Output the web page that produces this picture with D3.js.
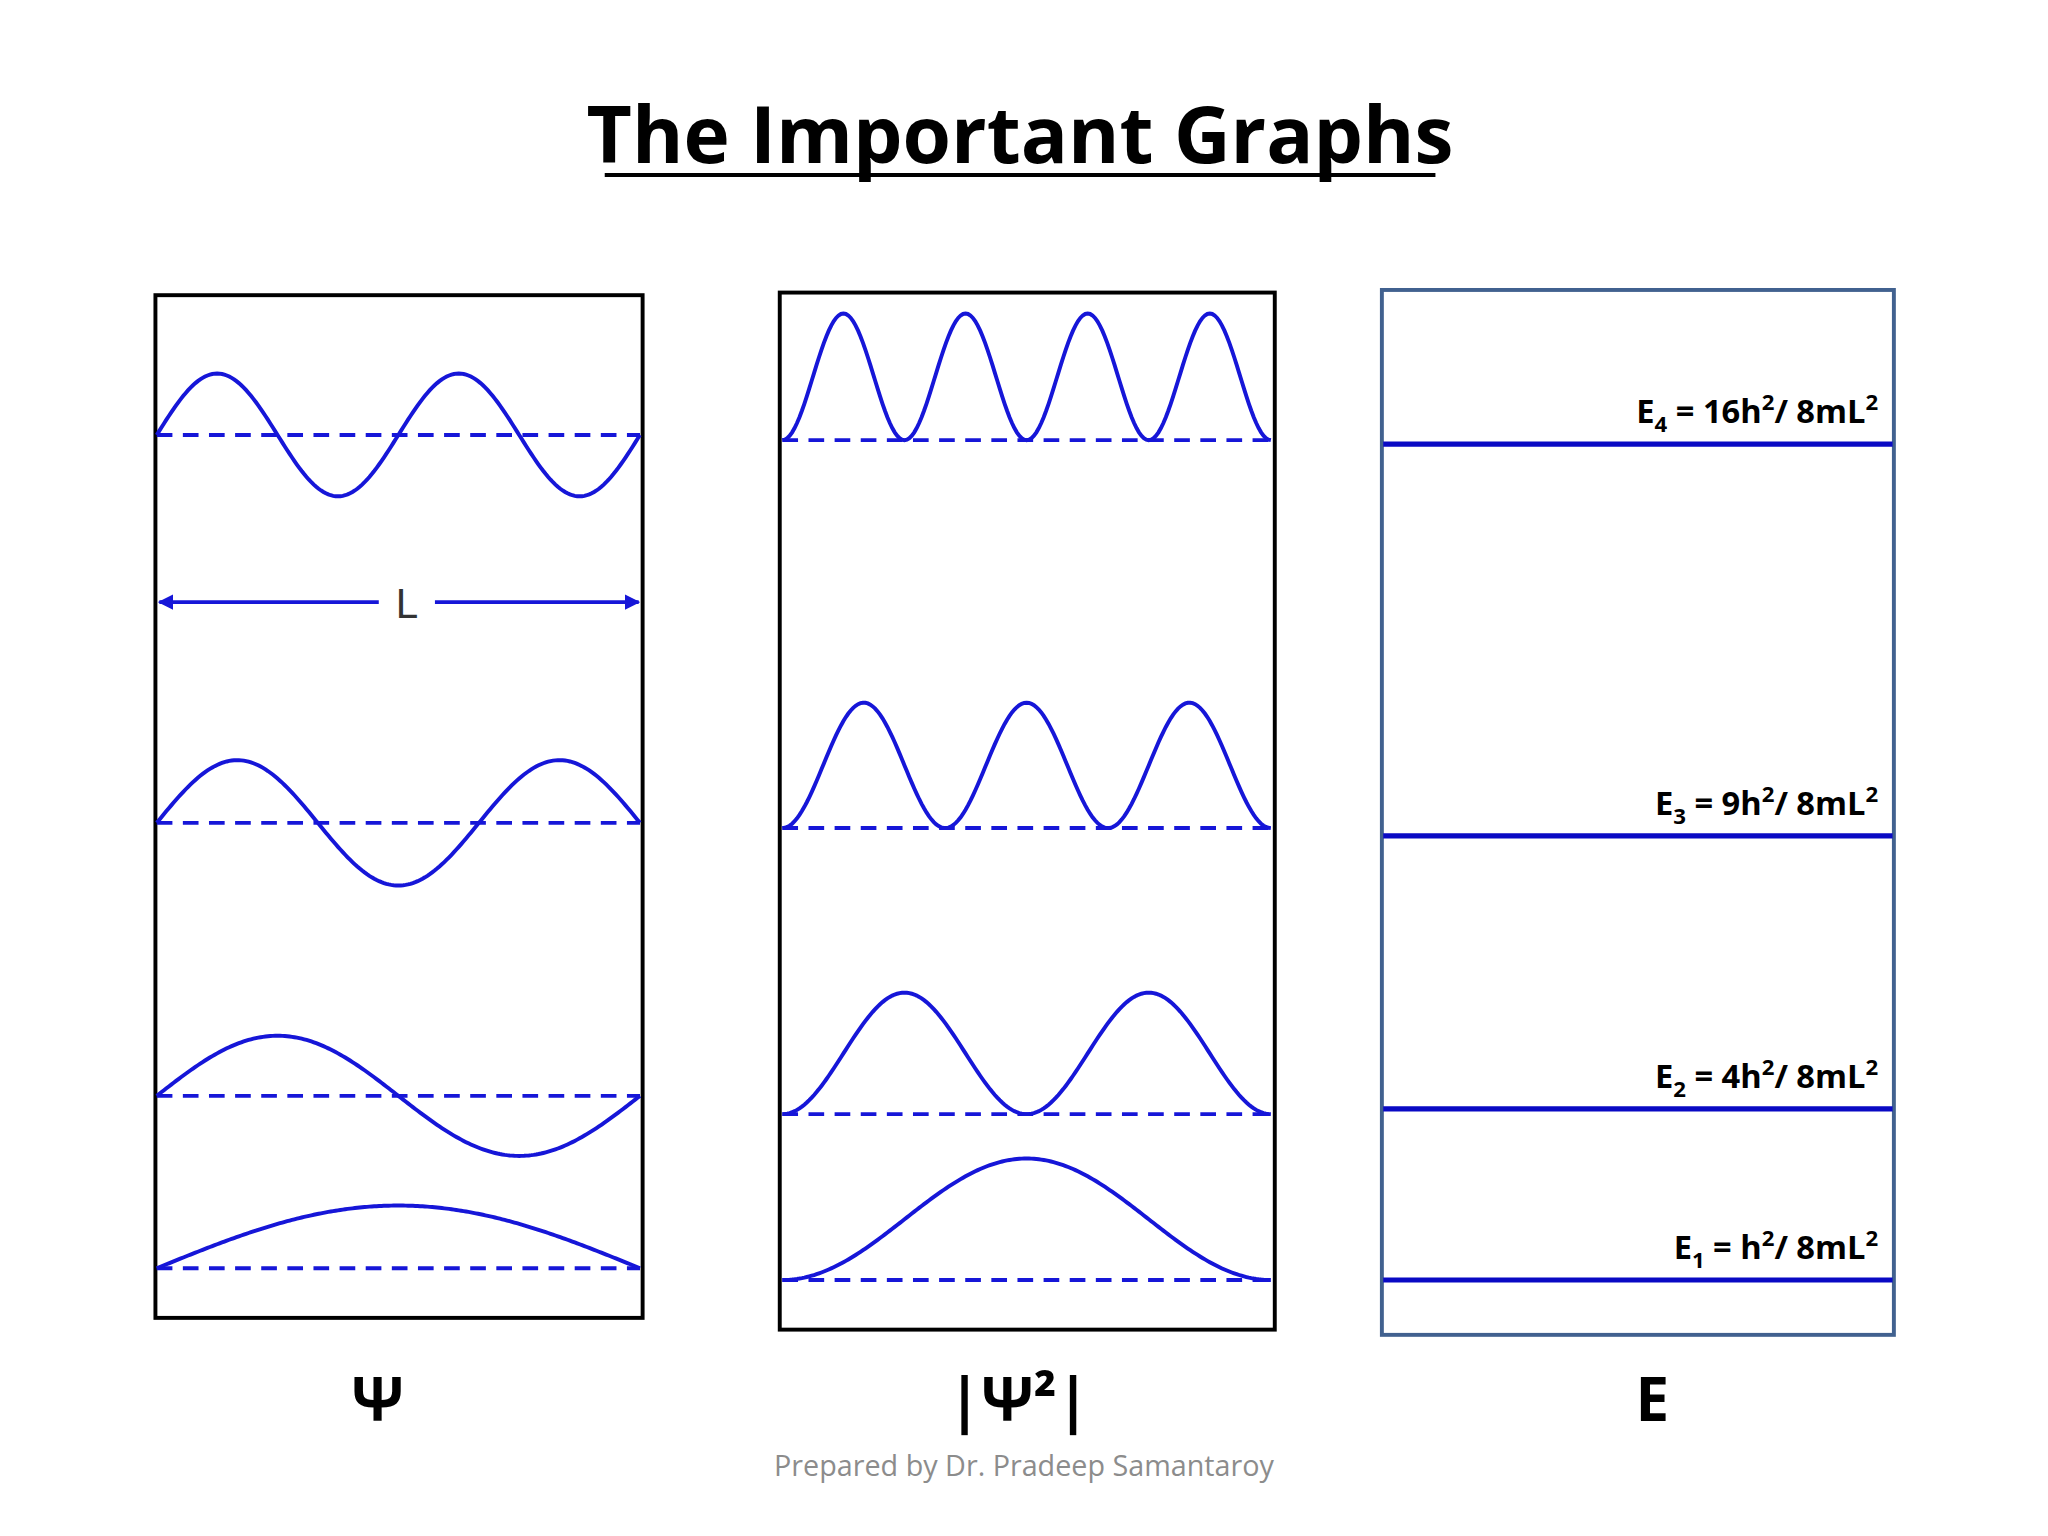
<!DOCTYPE html>
<html>
<head>
<meta charset="utf-8">
<script src="https://cdn.jsdelivr.net/npm/d3@7"></script>
<style>
  body { margin: 0; background: #fff; }
</style>
</head>
<body>
<div id="chart"></div>
<script>
// quantum numbers, top to bottom
var levels = [4, 3, 2, 1];
var energyLabels = [
  ["E", "4", " = 16h", "2", "/ 8mL", "2"],
  ["E", "3", " = 9h", "2", "/ 8mL", "2"],
  ["E", "2", " = 4h", "2", "/ 8mL", "2"],
  ["E", "1", " = h", "2", "/ 8mL", "2"]
];
var axisNames = ["Ψ", "|Ψ²|", "E"];

var blue = "#1616d8";

var svg = d3.select("#chart").append("svg")
    .attr("width", 2048)
    .attr("height", 1536)
    .attr("viewBox", "0 0 1568 1176");

svg.append("text")
    .attr("x", 781).attr("y", 125)
    .attr("text-anchor", "middle")
    .attr("font-family", "Open Sans, sans-serif")
    .attr("font-weight", "bold")
    .attr("font-size", 60)
    .text("The Important Graphs");
svg.append("line")
    .attr("x1", 463).attr("x2", 1099)
    .attr("y1", 134).attr("y2", 134)
    .attr("stroke", "#000").attr("stroke-width", 3);

// panel frames
var panels = [
  {x0: 119, x1: 492, y0: 226, y1: 1009, c: "#000"},
  {x0: 597, x1: 976, y0: 224, y1: 1018, c: "#000"},
  {x0: 1058, x1: 1450, y0: 222, y1: 1022, c: "#41618f"}
];
panels.forEach(function(p) {
  svg.append("rect")
      .attr("x", p.x0).attr("y", p.y0)
      .attr("width", p.x1 - p.x0).attr("height", p.y1 - p.y0)
      .attr("fill", "none").attr("stroke", p.c).attr("stroke-width", 3);
});

var samples = d3.range(0, 1.0001, 0.005);

function drawCurves(xr, bases, amps, fn) {
  var x = d3.scaleLinear().domain([0, 1]).range(xr);
  levels.forEach(function(n, i) {
    var y = d3.scaleLinear().domain([0, 1]).range([bases[i], bases[i] - amps[i]]);
    svg.append("line")
        .attr("x1", xr[0]).attr("x2", xr[1])
        .attr("y1", bases[i]).attr("y2", bases[i])
        .attr("stroke", blue).attr("stroke-width", 3)
        .attr("stroke-dasharray", "12,8");
    var line = d3.line()
        .x(function(d) { return x(d); })
        .y(function(d) { return y(fn(n, d)); });
    svg.append("path")
        .datum(samples)
        .attr("d", line)
        .attr("fill", "none").attr("stroke", blue).attr("stroke-width", 3);
  });
}

// Ψ
drawCurves([120, 490], [333, 630, 839, 971], [47, 48, 46, 48],
  function(n, t) { return Math.sin(n * Math.PI * t); });
// |Ψ²|
drawCurves([599, 973], [337, 634, 853, 980], [97, 96, 93, 93],
  function(n, t) { var s = Math.sin(n * Math.PI * t); return s * s; });

// L arrow
var defs = svg.append("defs");
defs.append("marker").attr("id", "ah")
    .attr("viewBox", "0 0 10 10").attr("refX", 9).attr("refY", 5)
    .attr("markerWidth", 4).attr("markerHeight", 4).attr("orient", "auto-start-reverse")
  .append("path").attr("d", "M0,0L10,5L0,10Z").attr("fill", blue);
svg.append("line").attr("x1", 122).attr("x2", 290).attr("y1", 461).attr("y2", 461)
    .attr("stroke", blue).attr("stroke-width", 3).attr("marker-start", "url(#ah)");
svg.append("line").attr("x1", 333).attr("x2", 489).attr("y1", 461).attr("y2", 461)
    .attr("stroke", blue).attr("stroke-width", 3).attr("marker-end", "url(#ah)");
svg.append("text").attr("x", 311).attr("y", 473)
    .attr("text-anchor", "middle").attr("font-family", "DejaVu Sans, sans-serif")
    .attr("font-size", 30).attr("fill", "#333").text("L");

// energy levels
var ey = d3.scaleLinear().domain([16, 1]).range([340, 980]);
var eVals = levels.map(function(n) { return n * n; });
var eyPos = [340, 640, 849, 980];
eVals.forEach(function(v, i) {
  svg.append("line")
      .attr("x1", 1059).attr("x2", 1449)
      .attr("y1", eyPos[i]).attr("y2", eyPos[i])
      .attr("stroke", "#0a0ac4").attr("stroke-width", 4);
  var t = svg.append("text")
      .attr("x", 1438).attr("y", eyPos[i] - 16)
      .attr("text-anchor", "end")
      .attr("font-family", "Open Sans, sans-serif")
      .attr("font-weight", "bold").attr("font-size", 25);
  energyLabels[i].forEach(function(s, k) {
    var sp = t.append("tspan").text(s);
    if (k === 1) sp.attr("font-size", 17).attr("dy", 7);
    if (k === 2) sp.attr("dy", -7);
    if (k === 3 || k === 5) sp.attr("font-size", 17).attr("dy", -10);
    if (k === 4) sp.attr("dy", 10);
  });
});

// bottom names
[289, 780, 1265].forEach(function(cx, i) {
  svg.append("text")
      .attr("x", cx).attr("y", 1088)
      .attr("text-anchor", "middle")
      .attr("font-family", "Open Sans, sans-serif")
      .attr("font-weight", "bold").attr("font-size", 46)
      .text(axisNames[i]);
});

svg.append("text")
    .attr("x", 784).attr("y", 1130)
    .attr("text-anchor", "middle")
    .attr("font-family", "Open Sans, sans-serif")
    .attr("font-size", 22).attr("fill", "#8c8c8c")
    .text("Prepared by Dr. Pradeep Samantaroy");
</script>
</body>
</html>
